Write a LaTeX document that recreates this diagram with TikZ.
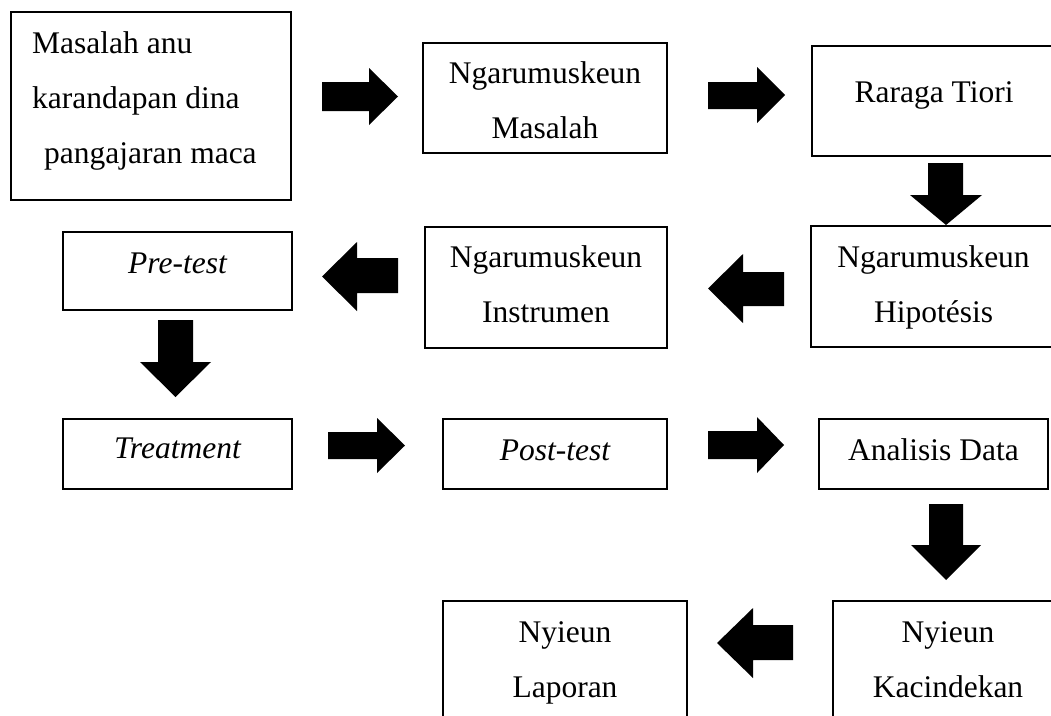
\documentclass[tikz,border=0pt]{standalone}
\usepackage{fontspec}
\setmainfont{Liberation Serif}
\newcommand{\harr}[7]{\fill (#1,#4) -- (#2,#4) -- (#2,#6) -- (#3,{(#6+#7)/2}) -- (#2,#7) -- (#2,#5) -- (#1,#5) -- cycle;}
\newcommand{\varr}[7]{\fill (#1,#5) -- (#1,#6) -- (#3,#6) -- ({(#3+#4)/2},#7) -- (#4,#6) -- (#2,#6) -- (#2,#5) -- cycle;}
\begin{document}
\begin{tikzpicture}[x=1pt,y=-1pt,
  box/.style={draw, line width=1.8pt, rectangle, inner sep=0pt},
  txt/.style={anchor=base, inner sep=0pt, font=\fontsize{31.5}{38}\selectfont},
  txtl/.style={anchor=base west, inner sep=0pt, font=\fontsize{31.5}{38}\selectfont}]
\useasboundingbox (0,0) rectangle (1051,715);
\clip (0,0) rectangle (1051,715);
% boxes
\node[box, minimum width=280pt, minimum height=188pt] (b1) at (151,106) {};
\node[box, minimum width=244pt, minimum height=110pt] (b2) at (545,98) {};
\node[box, minimum width=244pt, minimum height=110pt] (b3) at (934,101) {};
\node[box, minimum width=245pt, minimum height=121pt] (b4) at (933.5,286.5) {};
\node[box, minimum width=242pt, minimum height=121pt] (b5) at (546,287.5) {};
\node[box, minimum width=229pt, minimum height=78pt] (b6) at (177.5,271) {};
\node[box, minimum width=229pt, minimum height=70pt] (b7) at (177.5,454) {};
\node[box, minimum width=224pt, minimum height=70pt] (b8) at (555,454) {};
\node[box, minimum width=229pt, minimum height=70pt] (b9) at (933.5,454) {};
\node[box, minimum width=230pt, minimum height=124pt] (b10) at (948,663) {};
\node[box, minimum width=244pt, minimum height=124pt] (b11) at (565,663) {};
% texts
\node[txtl] (t1a) at (32,53) {Masalah anu};
\node[txtl] (t1b) at (32,108) {karandapan dina};
\node[txtl] (t1c) at (44,163) {pangajaran maca};
\node[txt] (t2a) at (545,83) {Ngarumuskeun};
\node[txt] (t2b) at (545,138) {Masalah};
\node[txt] (t3) at (934,102) {Raraga Tiori};
\node[txt] (t4a) at (933.5,267) {Ngarumuskeun};
\node[txt] (t4b) at (933.5,322) {Hipotésis};
\node[txt] (t5a) at (546,267) {Ngarumuskeun};
\node[txt] (t5b) at (546,322) {Instrumen};
\node[txt] (t6) at (177.5,273) {\itshape Pre-test};
\node[txt] (t7) at (177.5,458) {\itshape Treatment};
\node[txt] (t8) at (555,460) {\itshape Post-test};
\node[txt] (t9) at (933.5,460) {Analisis Data};
\node[txt] (t10a) at (948,642) {Nyieun};
\node[txt] (t10b) at (948,697) {Kacindekan};
\node[txt] (t11a) at (565,642) {Nyieun};
\node[txt] (t11b) at (565,697) {Laporan};
% block arrows
\harr{322}{369}{398}{82}{111}{68}{125}
\harr{708}{757}{785}{82}{109}{67}{123}
\varr{928}{963}{910}{982}{163}{195}{225}
\harr{784}{743}{708}{272}{306}{254}{323}
\harr{398}{357}{322}{258}{293}{242}{311}
\varr{158}{193}{140}{211}{320}{362}{397}
\harr{328}{377}{405}{432}{459}{418}{473}
\harr{708}{757}{784}{431}{459}{417}{473}
\varr{929}{963}{911}{981}{504}{545}{580}
\harr{793}{753}{717}{625}{660}{608}{678}
\end{tikzpicture}
\end{document}
